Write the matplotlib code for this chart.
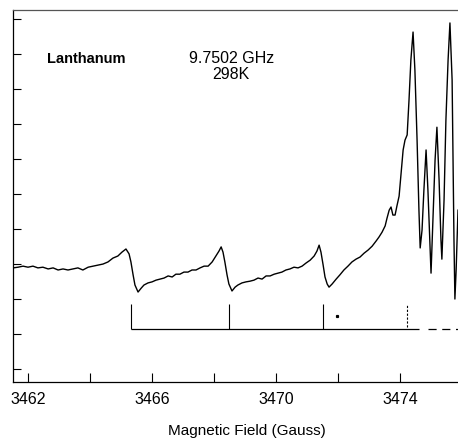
import matplotlib.pyplot as plt

# EPR spectrum (field in Gauss, intensity in arbitrary units)
field = [3461.52, 3461.68, 3461.84, 3462.00, 3462.16, 3462.32, 3462.48, 3462.65,
         3462.81, 3462.97, 3463.13, 3463.29, 3463.45, 3463.61, 3463.77, 3463.94,
         3464.10, 3464.26, 3464.42, 3464.58, 3464.74, 3464.90, 3465.03, 3465.16,
         3465.26, 3465.32, 3465.39, 3465.45, 3465.55, 3465.65, 3465.74, 3465.87,
         3466.00, 3466.13, 3466.26, 3466.39, 3466.52, 3466.65, 3466.77, 3466.90,
         3467.03, 3467.16, 3467.29, 3467.42, 3467.55, 3467.68, 3467.81, 3467.94,
         3468.06, 3468.16, 3468.23, 3468.29, 3468.35, 3468.42, 3468.48, 3468.58,
         3468.68, 3468.77, 3468.90, 3469.03, 3469.16, 3469.29, 3469.42, 3469.55,
         3469.68, 3469.81, 3469.94, 3470.06, 3470.19, 3470.32, 3470.45, 3470.58,
         3470.71, 3470.84, 3470.97, 3471.10, 3471.23, 3471.32, 3471.39, 3471.45,
         3471.52, 3471.58, 3471.65, 3471.71, 3471.81, 3471.94, 3472.06, 3472.19,
         3472.32, 3472.45, 3472.58, 3472.71, 3472.84, 3472.97, 3473.10, 3473.23,
         3473.32, 3473.42, 3473.52, 3473.58, 3473.65, 3473.71, 3473.77, 3473.84,
         3473.90, 3473.97, 3474.03, 3474.10, 3474.16, 3474.23, 3474.29, 3474.35,
         3474.42, 3474.48, 3474.55, 3474.61, 3474.65, 3474.71, 3474.77, 3474.84,
         3474.90, 3474.97, 3475.00, 3475.06, 3475.13, 3475.19, 3475.26, 3475.32,
         3475.35, 3475.42, 3475.48, 3475.55, 3475.61, 3475.68, 3475.71, 3475.74,
         3475.77, 3475.81, 3475.87]
signal = [2.89, 2.91, 2.94, 2.91, 2.94, 2.89, 2.91, 2.86, 2.89, 2.83, 2.86, 2.83,
          2.86, 2.89, 2.83, 2.91, 2.94, 2.97, 3.00, 3.06, 3.17, 3.23, 3.34, 3.43,
          3.29, 3.06, 2.69, 2.40, 2.20, 2.31, 2.40, 2.46, 2.49, 2.54, 2.57, 2.60,
          2.66, 2.63, 2.71, 2.71, 2.77, 2.77, 2.83, 2.83, 2.89, 2.94, 2.94, 3.06,
          3.23, 3.37, 3.49, 3.34, 3.06, 2.69, 2.43, 2.23, 2.34, 2.40, 2.46, 2.49,
          2.51, 2.54, 2.60, 2.57, 2.66, 2.66, 2.71, 2.74, 2.77, 2.83, 2.86, 2.91,
          2.89, 2.94, 3.03, 3.11, 3.23, 3.37, 3.54, 3.34, 2.97, 2.63, 2.43, 2.34,
          2.43, 2.57, 2.69, 2.83, 2.94, 3.06, 3.14, 3.20, 3.31, 3.40, 3.51, 3.66,
          3.77, 3.91, 4.09, 4.31, 4.54, 4.63, 4.40, 4.40, 4.66, 4.94, 5.54, 6.26,
          6.54, 6.69, 7.69, 8.83, 9.63, 8.54, 6.54, 4.54, 3.46, 3.97, 5.11, 6.26,
          5.11, 3.40, 2.74, 4.26, 5.97, 6.91, 5.40, 3.69, 3.14, 4.83, 7.11, 8.83,
          9.89, 8.26, 5.97, 3.69, 2.00, 2.83, 4.54]

# stick diagram (line positions)
stick_pos = [3465.32, 3468.48, 3471.52]
stick_dashed = 3474.23
stick_top = 1.86
stick_base = 1.14
stick_end = 3474.61
dot = (3471.97, 1.51)

x_ticks = [3462, 3464, 3466, 3468, 3470, 3472, 3474]
x_labels = ['3462', '', '3466', '', '3470', '', '3474']
y_ticks = list(range(0, 11))

plt.rcParams['font.family'] = ['Liberation Sans', 'DejaVu Sans']

fig = plt.figure(figsize=(4.58, 4.42), dpi=100)
ax = fig.add_axes([12.5 / 458, 1 - 382 / 442, 1 - 12.5 / 458, 372 / 442])

ax.plot(field, signal, color='black', lw=1.0)

# sticks
ax.vlines(stick_pos, stick_base, stick_top, color='black', lw=0.8)
ax.vlines(stick_dashed, stick_base + 0.05, stick_top, color='black', lw=0.8,
          linestyles=(0, (2, 1.5)))
ax.hlines(stick_base, stick_pos[0], stick_end, color='black', lw=0.9)
ax.hlines(stick_base, 3474.9, 3475.9, color='black', lw=0.9,
          linestyles=(0, (6.5, 4.5)))
ax.plot(*dot, marker='s', ms=1.3, color='black')

ax.set_xlim(3461.5, 3475.87)
ax.set_ylim(-0.371, 10.26)
ax.set_xticks(x_ticks, x_labels)
ax.set_yticks(y_ticks, [])
ax.tick_params(axis='x', direction='in', length=6.5, width=0.8, pad=7,
               labelsize=11.5)
ax.tick_params(axis='y', direction='in', length=5.8, width=0.8)
ax.spines['right'].set_visible(False)
ax.spines['top'].set_color('#555555')
for s in ['left', 'bottom', 'top']:
    ax.spines[s].set_linewidth(0.9)

fig.text(47 / 458, 1 - 63 / 442, 'Lanthanum', fontsize=10.5, fontweight='bold',
         ha='left', va='baseline')
fig.text(232 / 458, 1 - 63 / 442, '9.7502 GHz', fontsize=11.5,
         ha='center', va='baseline')
fig.text(231 / 458, 1 - 79 / 442, '298K', fontsize=11.5,
         ha='center', va='baseline')
fig.text(246.5 / 458, 1 - 431.5 / 442, 'Magnetic Field (Gauss)', fontsize=11,
         ha='center', va='center')

plt.savefig('out.png', dpi=100)
